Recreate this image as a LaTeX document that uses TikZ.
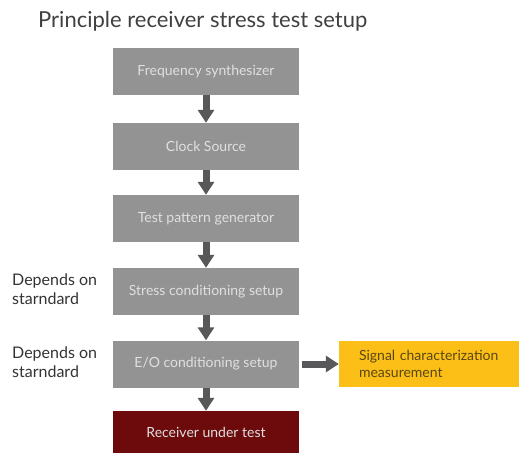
\documentclass[tikz,border=0pt]{standalone}
\usepackage{fontspec}
\setmainfont{Lato}
\usetikzlibrary{arrows.meta}
\definecolor{boxgrey}{HTML}{939394}
\definecolor{arrowgrey}{HTML}{58585A}
\definecolor{dutred}{HTML}{6C0A0C}
\definecolor{measyellow}{HTML}{FBBF17}
\definecolor{meastext}{HTML}{5A4712}
\tikzset{
  stage/.style={rectangle,fill=boxgrey,text=white!88!black,minimum width=186pt,
    minimum height=47pt,inner sep=0pt,font=\fontsize{14}{16}\selectfont},
  flow/.style={draw=arrowgrey,line width=7pt,
    -{Triangle[width=16pt,length=13pt]}},
  note/.style={align=left,anchor=west,inner sep=0pt,text=black!80,font=\fontsize{16}{18.5}\selectfont}
}
\begin{document}
\begin{tikzpicture}[x=1pt,y=-1pt]
        \useasboundingbox (0,0) rectangle (519,453);

        \node[anchor=base west,inner sep=0pt,text=black!75,font=\fontsize{22}{25}\selectfont] (title) at (38,27) {Principle receiver stress test setup};

        \begin{scope}[every node/.style={stage}]
          \node (1) at (206,71.5)  {Frequency synthesizer};
          \node (2) at (206,146.5) {Clock Source};
          \node (3) at (206,218.5) {Test pattern generator};
          \node (4) at (206,291.5) {Stress conditioning setup};
          \node (5) at (206,364)   {E/O conditioning setup};
          \node[fill=dutred,minimum height=42pt] (6) at (206,432) {Receiver under test};
        \end{scope}

        \node[rectangle,fill=measyellow,text=meastext,minimum width=180pt,minimum height=46pt,
          inner xsep=20pt,text width=140pt,align=left,font=\fontsize{14}{17}\selectfont]
          (7) at (429,364) {Signal characterization\\measurement};

        \node[note] (n4) at (12,289) {Depends on\\starndard};
        \node[note] (n5) at (12,362) {Depends on\\starndard};

        \begin{scope}[every edge/.style={flow}]
          \path (1) edge (2);
          \path (2) edge (3);
          \path (3) edge (4);
          \path (4) edge (5);
          \path (5) edge (6);
          \path (5) edge[shorten <=3pt] (7);
        \end{scope}

      \end{tikzpicture}
\end{document}
